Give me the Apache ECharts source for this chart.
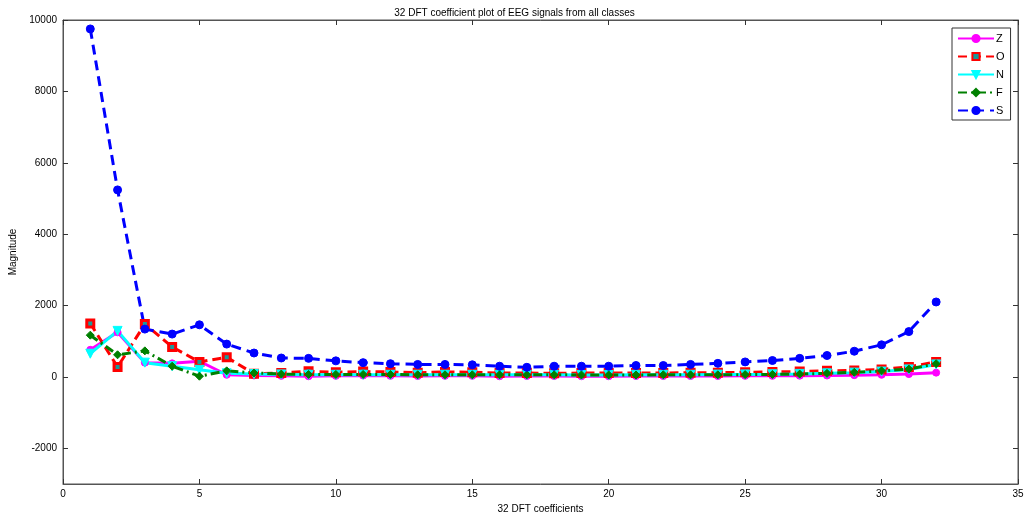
<!DOCTYPE html>
<html>
<head>
<meta charset="utf-8">
<script src="https://cdn.jsdelivr.net/npm/echarts@6/dist/echarts.min.js"></script>
<style>
  html, body { margin: 0; padding: 0; background: #fff; }
  #chart { width: 1029px; height: 517px; }
</style>
</head>
<body>
<div id="chart"></div>
<script>
// DFT coefficient index 1..32
const coefficients = Array.from({ length: 32 }, (_, i) => i + 1);

// Mean DFT magnitude per class
const classZ = [760, 1250, 400, 380, 440, 60, 40, 30, 20, 30, 40, 30, 25, 30, 30, 20,
                25, 25, 20, 20, 25, 25, 25, 25, 30, 30, 35, 40, 50, 60, 80, 120];
const classO = [1500, 280, 1480, 840, 420, 550, 90, 110, 160, 130, 150, 140, 120, 140, 130, 110,
                110, 100, 110, 110, 110, 110, 120, 120, 130, 140, 150, 170, 180, 210, 280, 420];
const classN = [650, 1290, 400, 300, 200, 100, 80, 70, 60, 60, 60, 60, 60, 60, 60, 60,
                60, 60, 55, 55, 60, 60, 60, 65, 70, 75, 85, 100, 120, 150, 210, 350];
const classF = [1170, 620, 730, 300, 20, 170, 110, 80, 70, 70, 70, 70, 60, 60, 60, 60,
                60, 60, 55, 55, 55, 60, 60, 60, 65, 70, 80, 100, 130, 170, 220, 370];
const classS = [9750, 5240, 1340, 1200, 1460, 920, 670, 530, 520, 450, 400, 370, 350, 350, 340, 300,
                270, 300, 300, 300, 320, 320, 350, 380, 420, 460, 520, 600, 720, 900, 1270, 2100];

const xTicks = [0, 5, 10, 15, 20, 25, 30, 35];
const yTicks = [-2000, 0, 2000, 4000, 6000, 8000, 10000];

const FONT = 'Liberation Sans';
const lineCol = '#555';
const tickStyle = { color: '#333', width: 1 };
const plain = v => String(v);

function pairs(vals) { return vals.map((v, i) => [coefficients[i], v]); }

function lineSeries(name, vals, color, type, symbol, size, fill, border, borderW) {
  return {
    name, type: 'line', data: pairs(vals),
    lineStyle: { color, width: 3, type },
    symbol, symbolSize: size,
    itemStyle: { color: fill, borderColor: border, borderWidth: borderW },
    emphasis: { disabled: true },
    animation: false, z: 3
  };
}

const chart = echarts.init(document.getElementById('chart'));
chart.setOption({
  backgroundColor: '#fff',
  title: {
    text: '32 DFT coefficient plot of EEG signals from all classes',
    left: 'center', top: 3,
    textStyle: { fontFamily: FONT, fontSize: 10, fontWeight: 'normal', color: '#000' }
  },
  grid: {
    left: 63, right: 11, top: 20, bottom: 33,
    outerBoundsMode: 'none', containLabel: false,
    show: true, borderColor: lineCol, borderWidth: 1
  },
  legend: {
    orient: 'vertical', left: 952, top: 28,
    itemWidth: 36, itemHeight: 9, itemGap: 7,
    padding: [5, 6, 4, 5],
    backgroundColor: '#fff', borderColor: '#333', borderWidth: 1,
    textStyle: { fontFamily: FONT, fontSize: 11, color: '#000', padding: [0, 0, 0, -3] },
    data: ['Z', 'O', 'N', 'F', 'S']
  },
  xAxis: [{
    type: 'value', min: 0, max: 35, interval: 5,
    name: '32 DFT coefficients', nameLocation: 'middle', nameGap: 20,
    nameTextStyle: { fontFamily: FONT, fontSize: 10, color: '#000' },
    axisLine: { onZero: false, lineStyle: { color: lineCol, width: 1 } },
    splitLine: { show: false },
    axisTick: { inside: true, length: 5, customValues: xTicks, lineStyle: tickStyle },
    axisLabel: { fontFamily: FONT, fontSize: 10, color: '#000', margin: 5, customValues: xTicks, formatter: plain }
  }, {
    type: 'value', min: 0, max: 35, interval: 5, position: 'top',
    axisLine: { onZero: false, lineStyle: { color: lineCol, width: 1 } },
    splitLine: { show: false },
    axisTick: { inside: true, length: 5, customValues: xTicks, lineStyle: tickStyle },
    axisLabel: { show: false }
  }],
  yAxis: [{
    type: 'value', min: -3000, max: 10000,
    name: 'Magnitude', nameLocation: 'middle', nameGap: 44, nameRotate: 90,
    nameTextStyle: { fontFamily: FONT, fontSize: 10, color: '#000' },
    axisLine: { show: true, onZero: false, lineStyle: { color: lineCol, width: 1 } },
    splitLine: { show: false },
    axisTick: { show: true, inside: true, length: 5, customValues: yTicks, lineStyle: tickStyle },
    axisLabel: { fontFamily: FONT, fontSize: 10, color: '#000', margin: 6, customValues: yTicks, formatter: plain }
  }, {
    type: 'value', min: -3000, max: 10000, position: 'right',
    axisLine: { show: true, onZero: false, lineStyle: { color: lineCol, width: 1 } },
    splitLine: { show: false },
    axisTick: { show: true, inside: true, length: 5, customValues: yTicks, lineStyle: tickStyle },
    axisLabel: { show: false }
  }],
  series: [
    lineSeries('Z', classZ, '#ff00ff', 'solid', 'circle', 7, '#ff00ff', '#ff00ff', 1),
    lineSeries('O', classO, '#ff0000', [9, 5], 'rect', 7, '#1a9a9a', '#ff0000', 3),
    lineSeries('N', classN, '#00ffff', 'solid', 'triangle', 9, '#00ffff', '#00ffff', 1),
    lineSeries('F', classF, '#008000', [9, 4, 2, 4], 'diamond', 8, '#008000', '#008000', 1),
    lineSeries('S', classS, '#0000ff', [10, 6], 'circle', 8, '#0000ff', '#0000ff', 1)
  ].map(s => {
    if (s.name === 'N') s.symbolRotate = 180;
    return s;
  })
});
</script>
</body>
</html>
